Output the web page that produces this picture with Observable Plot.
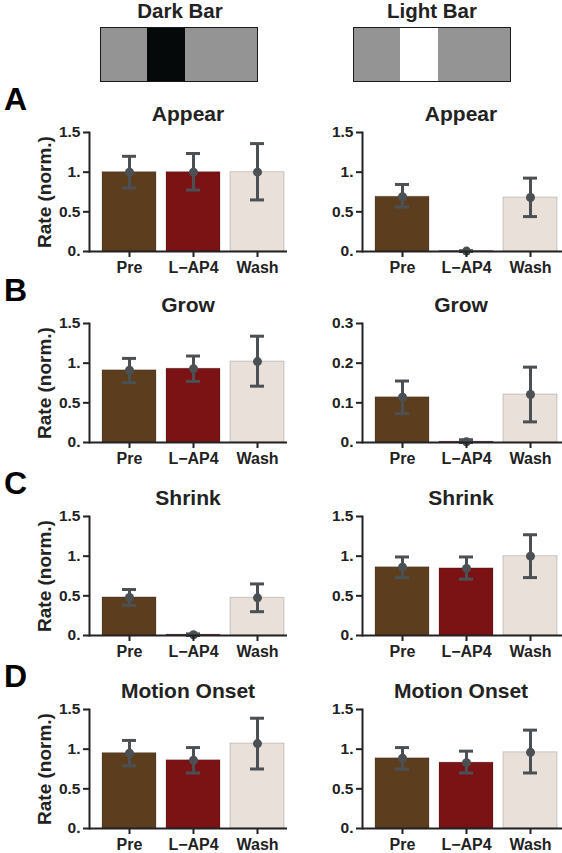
<!DOCTYPE html>
<html>
<head>
<meta charset="utf-8">
<script src="https://cdn.jsdelivr.net/npm/d3@7"></script>
<script src="https://cdn.jsdelivr.net/npm/@observablehq/plot@0.6"></script>
<style>
  html, body { margin: 0; padding: 0; background: #fff; }
  body { width: 562px; height: 853px; position: relative; overflow: hidden;
         font-family: "Liberation Sans", Arial, Helvetica, sans-serif; font-weight: bold; color: #222; }
  .abs { position: absolute; }
  .hdr { font-size: 20.5px; text-align: center; width: 200px; }
  .box { border: 1.5px solid #1a1a1a; background: #949494; box-sizing: border-box; }
  .stripe { position: absolute; top: 0; bottom: 0; }
  .letter { font-size: 32px; line-height: 1; color: #000; }
  .title { font-size: 21px; text-align: center; width: 240px; line-height: 1; }
  .ylab { font-size: 19px; white-space: nowrap; transform: translate(-50%, -50%) rotate(-90deg); line-height: 1; }
</style>
</head>
<body>
<script>
// ---------- data ----------
const conditions = ["Pre", "L\u2212AP4", "Wash"];
const conditionColors = ["#5c3e1f", "#7b1315", "#e9e1d9"];
const columns = ["Dark Bar", "Light Bar"];
const rowLetters = ["A", "B", "C", "D"];
const rowTitles = ["Appear", "Grow", "Shrink", "Motion Onset"];

// Dark Bar column
const darkMean = [[1.00, 1.00, 1.00], [0.91, 0.93, 1.02], [0.48, 0.01, 0.475], [0.95, 0.86, 1.07]];
const darkLow  = [[0.80, 0.775, 0.65], [0.755, 0.77, 0.71], [0.38, 0.00, 0.30], [0.79, 0.70, 0.75]];
const darkHigh = [[1.20, 1.235, 1.36], [1.06, 1.09, 1.34], [0.58, 0.02, 0.65], [1.11, 1.02, 1.39]];

// Light Bar column
const lightMean = [[0.69, 0.005, 0.68], [0.114, 0.002, 0.121], [0.86, 0.846, 1.00], [0.885, 0.83, 0.96]];
const lightLow  = [[0.56, 0.00, 0.44], [0.073, 0.00, 0.052], [0.73, 0.71, 0.73], [0.75, 0.70, 0.70]];
const lightHigh = [[0.845, 0.01, 0.925], [0.155, 0.007, 0.19], [0.99, 0.99, 1.27], [1.02, 0.975, 1.24]];

const darkYMax = [1.5, 1.5, 1.5, 1.5];
const lightYMax = [1.5, 0.3, 1.5, 1.5];
const darkYTicks = [[0, 0.5, 1, 1.5], [0, 0.5, 1, 1.5], [0, 0.5, 1, 1.5], [0, 0.5, 1, 1.5]];
const lightYTicks = [[0, 0.5, 1, 1.5], [0, 0.1, 0.2, 0.3], [0, 0.5, 1, 1.5], [0, 0.5, 1, 1.5]];
const yLabel = "Rate (norm.)";

// ---------- layout ----------
const FONT = '"Liberation Sans", Arial, Helvetica, sans-serif';
const rowTops = [120, 311, 504, 697];
const colLefts = [0, 273];
const PW = [295, 289];
const ML = 89, MT = 12, MB = 30, PLOT_H = 119;

function fmt(v) {
  if (v === 0) return "0.";
  if (Number.isInteger(v)) return v + ".";
  return String(+v.toFixed(2));
}

function el(cls, text, style) {
  const d = document.createElement("div");
  d.className = "abs " + cls;
  if (text != null) d.textContent = text;
  Object.assign(d.style, style);
  document.body.appendChild(d);
  return d;
}

// header
const hdrCenters = [180, 432];
const boxLefts = [100, 353];
const stripeColors = ["#060909", "#ffffff"];
columns.forEach((name, i) => {
  el("hdr", name, { left: (hdrCenters[i] - 100) + "px", top: "-1px" });
  const b = el("box", null, { left: boxLefts[i] + "px", top: "27px", width: "158px", height: "55px" });
  const s = document.createElement("div");
  s.className = "stripe";
  Object.assign(s.style, { left: "46px", width: "38px", background: stripeColors[i] });
  b.appendChild(s);
});

function panel(mean, lo, hi, yMax, yTicks, width) {
  const data = conditions.map((c, i) => ({ c, m: mean[i], lo: lo[i], hi: hi[i] }));
  const axisColor = "#222";
  const errColor = "#4b5054";
  return Plot.plot({
    width, height: MT + PLOT_H + MB,
    marginLeft: ML, marginRight: width - 287 + (width === 289 ? -2 : 0), marginTop: MT, marginBottom: MB,
    style: { fontFamily: FONT, fontWeight: "bold", color: axisColor, background: "transparent", overflow: "visible" },
    x: { domain: conditions, range: [102, 284], paddingInner: 0.16, paddingOuter: 0, label: null },
    y: { domain: [0, yMax], label: null },
    color: { domain: conditions, range: conditionColors },
    marks: [
      Plot.barY(data, { x: "c", y: "m", fill: "c", stroke: "rgba(0,0,0,0.18)", strokeWidth: 1 }),
      Plot.ruleX(data, { x: "c", y1: "lo", y2: "hi", stroke: errColor, strokeWidth: 3 }),
      Plot.tickY(data, { x: "c", y: "lo", stroke: errColor, strokeWidth: 3, insetLeft: 20, insetRight: 20 }),
      Plot.tickY(data, { x: "c", y: "hi", stroke: errColor, strokeWidth: 3, insetLeft: 20, insetRight: 20 }),
      Plot.dot(data, { x: "c", y: "m", r: 4.5, fill: errColor, stroke: "none" }),
      Plot.ruleY([0], { stroke: axisColor, strokeWidth: 2 }),
      Plot.frame({ anchor: "left", stroke: axisColor, strokeWidth: 2 }),
      Plot.axisX({ tickSize: 6, tickPadding: 4, fontSize: 16, label: null, stroke: axisColor, strokeWidth: 2 }),
      Plot.axisY({ ticks: yTicks, tickFormat: fmt, tickSize: 6, tickPadding: 3, fontSize: 15.5, label: null, stroke: axisColor, strokeWidth: 2 })
    ]
  });
}

const means = [darkMean, lightMean], lows = [darkLow, lightLow], highs = [darkHigh, lightHigh];
const yMaxes = [darkYMax, lightYMax], yTicksAll = [darkYTicks, lightYTicks];

rowTitles.forEach((title, r) => {
  el("letter", rowLetters[r], { left: "4px", top: (rowTops[r] - 37) + "px" });
  for (let c = 0; c < 2; c++) {
    const svg = panel(means[c][r], lows[c][r], highs[c][r], yMaxes[c][r], yTicksAll[c][r], PW[c]);
    const wrap = el("", null, { left: colLefts[c] + "px", top: rowTops[r] + "px" });
    wrap.appendChild(svg);
    const center = colLefts[c] + ML + 99;
    el("title", title, { left: (center - 120) + "px", top: (rowTops[r] - 17) + "px" });
  }
  el("ylab", yLabel, { left: "44px", top: (rowTops[r] + MT + PLOT_H / 2) + "px" });
});
</script>
</body>
</html>
